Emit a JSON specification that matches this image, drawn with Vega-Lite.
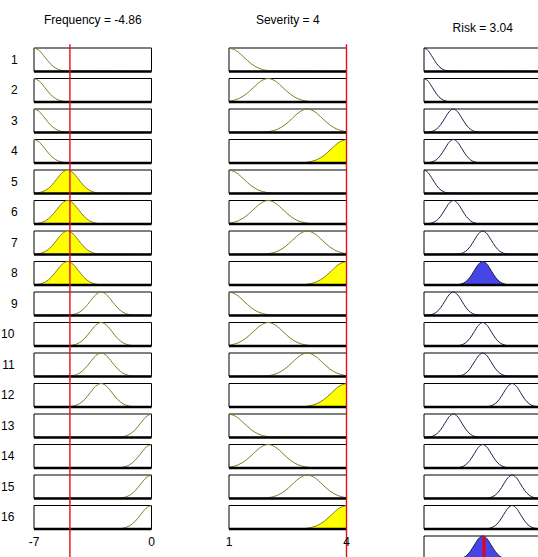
{
"$schema": "https://vega.github.io/schema/vega-lite/v6.json",
"padding": {"left": 0, "top": 14, "right": 0, "bottom": 0},
"background": "white",
"bounds": "flush",
"config": {"font": "Liberation Sans Narrow, Arial Narrow, Liberation Sans, sans-serif", "view": {"stroke": null}},
"data": {"values": [
{"k":"box","c":"Frequency","x":-7,"x2":0,"rule":[1,2,3,4,5,6,7,8,9,10,11,12,13,14,15,16],"fr":[]},
{"k":"box","c":"Severity","x":1,"x2":4,"rule":[1,2,3,4,5,6,7,8,9,10,11,12,13,14,15,16],"fr":[]},
{"k":"box","c":"Risk","x":1,"x2":5,"rule":[1,2,3,4,5,6,7,8,9,10,11,12,13,14,15,16,17],"fr":[]},
{"k":"red","c":"Frequency","x":-4.86,"rule":[1,2,3,4,5,6,7,8,9,10,11,12,13,14,15,16,17],"fr":[]},
{"k":"red","c":"Severity","x":4,"rule":[1,2,3,4,5,6,7,8,9,10,11,12,13,14,15,16,17],"fr":[]},
{"k":"redo","c":"Risk","x":3.04,"rule":[17],"fr":[]},
{"k":"lab","c":"Frequency","x":-7,"t":"-7","rule":[17],"fr":[]},
{"k":"lab","c":"Frequency","x":0,"t":"0","rule":[17],"fr":[]},
{"k":"lab","c":"Severity","x":1,"t":"1","rule":[17],"fr":[]},
{"k":"lab","c":"Severity","x":4,"t":"4","rule":[17],"fr":[]},

{"k":"mf","c":"Frequency","x":-7,"y":1,"rule":[1,2,3,4],"fr":[]},
{"k":"mf","c":"Frequency","x":-6.675,"y":0.8825,"rule":[1,2,3,4],"fr":[]},
{"k":"mf","c":"Frequency","x":-6.35,"y":0.6065,"rule":[1,2,3,4],"fr":[]},
{"k":"mf","c":"Frequency","x":-6.025,"y":0.3247,"rule":[1,2,3,4],"fr":[]},
{"k":"mf","c":"Frequency","x":-5.7,"y":0.1353,"rule":[1,2,3,4],"fr":[]},
{"k":"mf","c":"Frequency","x":-5.375,"y":0.0439,"rule":[1,2,3,4],"fr":[]},
{"k":"mf","c":"Frequency","x":-5.05,"y":0.0111,"rule":[1,2,3,4],"fr":[]},
{"k":"mf","c":"Frequency","x":0,"y":0,"rule":[1,2,3,4],"fr":[]},

{"k":"mf","c":"Frequency","x":-7,"y":0.0088,"rule":[5,6,7,8],"fr":[5,6,7,8]},
{"k":"mf","c":"Frequency","x":-6.95,"y":0.0111,"rule":[5,6,7,8],"fr":[5,6,7,8]},
{"k":"mf","c":"Frequency","x":-6.625,"y":0.0439,"rule":[5,6,7,8],"fr":[5,6,7,8]},
{"k":"mf","c":"Frequency","x":-6.3,"y":0.1353,"rule":[5,6,7,8],"fr":[5,6,7,8]},
{"k":"mf","c":"Frequency","x":-5.975,"y":0.3247,"rule":[5,6,7,8],"fr":[5,6,7,8]},
{"k":"mf","c":"Frequency","x":-5.65,"y":0.6065,"rule":[5,6,7,8],"fr":[5,6,7,8]},
{"k":"mf","c":"Frequency","x":-5.325,"y":0.8825,"rule":[5,6,7,8],"fr":[5,6,7,8]},
{"k":"mf","c":"Frequency","x":-5,"y":1,"rule":[5,6,7,8],"fr":[5,6,7,8]},
{"k":"mf","c":"Frequency","x":-4.675,"y":0.8825,"rule":[5,6,7,8],"fr":[5,6,7,8]},
{"k":"mf","c":"Frequency","x":-4.35,"y":0.6065,"rule":[5,6,7,8],"fr":[5,6,7,8]},
{"k":"mf","c":"Frequency","x":-4.025,"y":0.3247,"rule":[5,6,7,8],"fr":[5,6,7,8]},
{"k":"mf","c":"Frequency","x":-3.7,"y":0.1353,"rule":[5,6,7,8],"fr":[5,6,7,8]},
{"k":"mf","c":"Frequency","x":-3.375,"y":0.0439,"rule":[5,6,7,8],"fr":[5,6,7,8]},
{"k":"mf","c":"Frequency","x":-3.05,"y":0.0111,"rule":[5,6,7,8],"fr":[5,6,7,8]},
{"k":"mf","c":"Frequency","x":0,"y":0,"rule":[5,6,7,8],"fr":[5,6,7,8]},

{"k":"mf","c":"Frequency","x":-7,"y":0,"rule":[9,10,11,12],"fr":[]},
{"k":"mf","c":"Frequency","x":-4.95,"y":0.0111,"rule":[9,10,11,12],"fr":[]},
{"k":"mf","c":"Frequency","x":-4.625,"y":0.0439,"rule":[9,10,11,12],"fr":[]},
{"k":"mf","c":"Frequency","x":-4.3,"y":0.1353,"rule":[9,10,11,12],"fr":[]},
{"k":"mf","c":"Frequency","x":-3.975,"y":0.3247,"rule":[9,10,11,12],"fr":[]},
{"k":"mf","c":"Frequency","x":-3.65,"y":0.6065,"rule":[9,10,11,12],"fr":[]},
{"k":"mf","c":"Frequency","x":-3.325,"y":0.8825,"rule":[9,10,11,12],"fr":[]},
{"k":"mf","c":"Frequency","x":-3,"y":1,"rule":[9,10,11,12],"fr":[]},
{"k":"mf","c":"Frequency","x":-2.675,"y":0.8825,"rule":[9,10,11,12],"fr":[]},
{"k":"mf","c":"Frequency","x":-2.35,"y":0.6065,"rule":[9,10,11,12],"fr":[]},
{"k":"mf","c":"Frequency","x":-2.025,"y":0.3247,"rule":[9,10,11,12],"fr":[]},
{"k":"mf","c":"Frequency","x":-1.7,"y":0.1353,"rule":[9,10,11,12],"fr":[]},
{"k":"mf","c":"Frequency","x":-1.375,"y":0.0439,"rule":[9,10,11,12],"fr":[]},
{"k":"mf","c":"Frequency","x":-1.05,"y":0.0111,"rule":[9,10,11,12],"fr":[]},
{"k":"mf","c":"Frequency","x":0,"y":0,"rule":[9,10,11,12],"fr":[]},

{"k":"mf","c":"Frequency","x":-7,"y":0,"rule":[13,14,15,16],"fr":[]},
{"k":"mf","c":"Frequency","x":-1.95,"y":0.0111,"rule":[13,14,15,16],"fr":[]},
{"k":"mf","c":"Frequency","x":-1.625,"y":0.0439,"rule":[13,14,15,16],"fr":[]},
{"k":"mf","c":"Frequency","x":-1.3,"y":0.1353,"rule":[13,14,15,16],"fr":[]},
{"k":"mf","c":"Frequency","x":-0.975,"y":0.3247,"rule":[13,14,15,16],"fr":[]},
{"k":"mf","c":"Frequency","x":-0.65,"y":0.6065,"rule":[13,14,15,16],"fr":[]},
{"k":"mf","c":"Frequency","x":-0.325,"y":0.8825,"rule":[13,14,15,16],"fr":[]},
{"k":"mf","c":"Frequency","x":0,"y":1,"rule":[13,14,15,16],"fr":[]},

{"k":"mf","c":"Severity","x":1,"y":1,"rule":[1,5,9,13],"fr":[]},
{"k":"mf","c":"Severity","x":1.19,"y":0.8825,"rule":[1,5,9,13],"fr":[]},
{"k":"mf","c":"Severity","x":1.38,"y":0.6065,"rule":[1,5,9,13],"fr":[]},
{"k":"mf","c":"Severity","x":1.57,"y":0.3247,"rule":[1,5,9,13],"fr":[]},
{"k":"mf","c":"Severity","x":1.76,"y":0.1353,"rule":[1,5,9,13],"fr":[]},
{"k":"mf","c":"Severity","x":1.95,"y":0.0439,"rule":[1,5,9,13],"fr":[]},
{"k":"mf","c":"Severity","x":2.14,"y":0.0111,"rule":[1,5,9,13],"fr":[]},
{"k":"mf","c":"Severity","x":4,"y":0,"rule":[1,5,9,13],"fr":[]},

{"k":"mf","c":"Severity","x":1,"y":0.0314,"rule":[2,6,10,14],"fr":[]},
{"k":"mf","c":"Severity","x":1.05,"y":0.0439,"rule":[2,6,10,14],"fr":[]},
{"k":"mf","c":"Severity","x":1.24,"y":0.1353,"rule":[2,6,10,14],"fr":[]},
{"k":"mf","c":"Severity","x":1.43,"y":0.3247,"rule":[2,6,10,14],"fr":[]},
{"k":"mf","c":"Severity","x":1.62,"y":0.6065,"rule":[2,6,10,14],"fr":[]},
{"k":"mf","c":"Severity","x":1.81,"y":0.8825,"rule":[2,6,10,14],"fr":[]},
{"k":"mf","c":"Severity","x":2,"y":1,"rule":[2,6,10,14],"fr":[]},
{"k":"mf","c":"Severity","x":2.19,"y":0.8825,"rule":[2,6,10,14],"fr":[]},
{"k":"mf","c":"Severity","x":2.38,"y":0.6065,"rule":[2,6,10,14],"fr":[]},
{"k":"mf","c":"Severity","x":2.57,"y":0.3247,"rule":[2,6,10,14],"fr":[]},
{"k":"mf","c":"Severity","x":2.76,"y":0.1353,"rule":[2,6,10,14],"fr":[]},
{"k":"mf","c":"Severity","x":2.95,"y":0.0439,"rule":[2,6,10,14],"fr":[]},
{"k":"mf","c":"Severity","x":3.14,"y":0.0111,"rule":[2,6,10,14],"fr":[]},
{"k":"mf","c":"Severity","x":4,"y":0,"rule":[2,6,10,14],"fr":[]},

{"k":"mf","c":"Severity","x":1,"y":0,"rule":[3,7,11,15],"fr":[]},
{"k":"mf","c":"Severity","x":1.86,"y":0.0111,"rule":[3,7,11,15],"fr":[]},
{"k":"mf","c":"Severity","x":2.05,"y":0.0439,"rule":[3,7,11,15],"fr":[]},
{"k":"mf","c":"Severity","x":2.24,"y":0.1353,"rule":[3,7,11,15],"fr":[]},
{"k":"mf","c":"Severity","x":2.43,"y":0.3247,"rule":[3,7,11,15],"fr":[]},
{"k":"mf","c":"Severity","x":2.62,"y":0.6065,"rule":[3,7,11,15],"fr":[]},
{"k":"mf","c":"Severity","x":2.81,"y":0.8825,"rule":[3,7,11,15],"fr":[]},
{"k":"mf","c":"Severity","x":3,"y":1,"rule":[3,7,11,15],"fr":[]},
{"k":"mf","c":"Severity","x":3.19,"y":0.8825,"rule":[3,7,11,15],"fr":[]},
{"k":"mf","c":"Severity","x":3.38,"y":0.6065,"rule":[3,7,11,15],"fr":[]},
{"k":"mf","c":"Severity","x":3.57,"y":0.3247,"rule":[3,7,11,15],"fr":[]},
{"k":"mf","c":"Severity","x":3.76,"y":0.1353,"rule":[3,7,11,15],"fr":[]},
{"k":"mf","c":"Severity","x":3.95,"y":0.0439,"rule":[3,7,11,15],"fr":[]},
{"k":"mf","c":"Severity","x":4,"y":0.0314,"rule":[3,7,11,15],"fr":[]},

{"k":"mf","c":"Severity","x":1,"y":0,"rule":[4,8,12,16],"fr":[4,8,12,16]},
{"k":"mf","c":"Severity","x":2.86,"y":0.0111,"rule":[4,8,12,16],"fr":[4,8,12,16]},
{"k":"mf","c":"Severity","x":3.05,"y":0.0439,"rule":[4,8,12,16],"fr":[4,8,12,16]},
{"k":"mf","c":"Severity","x":3.24,"y":0.1353,"rule":[4,8,12,16],"fr":[4,8,12,16]},
{"k":"mf","c":"Severity","x":3.43,"y":0.3247,"rule":[4,8,12,16],"fr":[4,8,12,16]},
{"k":"mf","c":"Severity","x":3.62,"y":0.6065,"rule":[4,8,12,16],"fr":[4,8,12,16]},
{"k":"mf","c":"Severity","x":3.81,"y":0.8825,"rule":[4,8,12,16],"fr":[4,8,12,16]},
{"k":"mf","c":"Severity","x":4,"y":1,"rule":[4,8,12,16],"fr":[4,8,12,16]},

{"k":"mf","c":"Risk","x":1,"y":1,"rule":[1,2,5],"fr":[]},
{"k":"mf","c":"Risk","x":1.145,"y":0.8825,"rule":[1,2,5],"fr":[]},
{"k":"mf","c":"Risk","x":1.29,"y":0.6065,"rule":[1,2,5],"fr":[]},
{"k":"mf","c":"Risk","x":1.435,"y":0.3247,"rule":[1,2,5],"fr":[]},
{"k":"mf","c":"Risk","x":1.58,"y":0.1353,"rule":[1,2,5],"fr":[]},
{"k":"mf","c":"Risk","x":1.725,"y":0.0439,"rule":[1,2,5],"fr":[]},
{"k":"mf","c":"Risk","x":1.87,"y":0.0111,"rule":[1,2,5],"fr":[]},
{"k":"mf","c":"Risk","x":5,"y":0,"rule":[1,2,5],"fr":[]},

{"k":"mf","c":"Risk","x":1,"y":0,"rule":[3,4,6,9,13],"fr":[]},
{"k":"mf","c":"Risk","x":1.13,"y":0.0111,"rule":[3,4,6,9,13],"fr":[]},
{"k":"mf","c":"Risk","x":1.275,"y":0.0439,"rule":[3,4,6,9,13],"fr":[]},
{"k":"mf","c":"Risk","x":1.42,"y":0.1353,"rule":[3,4,6,9,13],"fr":[]},
{"k":"mf","c":"Risk","x":1.565,"y":0.3247,"rule":[3,4,6,9,13],"fr":[]},
{"k":"mf","c":"Risk","x":1.71,"y":0.6065,"rule":[3,4,6,9,13],"fr":[]},
{"k":"mf","c":"Risk","x":1.855,"y":0.8825,"rule":[3,4,6,9,13],"fr":[]},
{"k":"mf","c":"Risk","x":2,"y":1,"rule":[3,4,6,9,13],"fr":[]},
{"k":"mf","c":"Risk","x":2.145,"y":0.8825,"rule":[3,4,6,9,13],"fr":[]},
{"k":"mf","c":"Risk","x":2.29,"y":0.6065,"rule":[3,4,6,9,13],"fr":[]},
{"k":"mf","c":"Risk","x":2.435,"y":0.3247,"rule":[3,4,6,9,13],"fr":[]},
{"k":"mf","c":"Risk","x":2.58,"y":0.1353,"rule":[3,4,6,9,13],"fr":[]},
{"k":"mf","c":"Risk","x":2.725,"y":0.0439,"rule":[3,4,6,9,13],"fr":[]},
{"k":"mf","c":"Risk","x":2.87,"y":0.0111,"rule":[3,4,6,9,13],"fr":[]},
{"k":"mf","c":"Risk","x":5,"y":0,"rule":[3,4,6,9,13],"fr":[]},

{"k":"mf","c":"Risk","x":1,"y":0,"rule":[7,8,10,11,14,17],"fr":[8,17]},
{"k":"mf","c":"Risk","x":2.13,"y":0.0111,"rule":[7,8,10,11,14,17],"fr":[8,17]},
{"k":"mf","c":"Risk","x":2.275,"y":0.0439,"rule":[7,8,10,11,14,17],"fr":[8,17]},
{"k":"mf","c":"Risk","x":2.42,"y":0.1353,"rule":[7,8,10,11,14,17],"fr":[8,17]},
{"k":"mf","c":"Risk","x":2.565,"y":0.3247,"rule":[7,8,10,11,14,17],"fr":[8,17]},
{"k":"mf","c":"Risk","x":2.71,"y":0.6065,"rule":[7,8,10,11,14,17],"fr":[8,17]},
{"k":"mf","c":"Risk","x":2.855,"y":0.8825,"rule":[7,8,10,11,14,17],"fr":[8,17]},
{"k":"mf","c":"Risk","x":3,"y":1,"rule":[7,8,10,11,14,17],"fr":[8,17]},
{"k":"mf","c":"Risk","x":3.145,"y":0.8825,"rule":[7,8,10,11,14,17],"fr":[8,17]},
{"k":"mf","c":"Risk","x":3.29,"y":0.6065,"rule":[7,8,10,11,14,17],"fr":[8,17]},
{"k":"mf","c":"Risk","x":3.435,"y":0.3247,"rule":[7,8,10,11,14,17],"fr":[8,17]},
{"k":"mf","c":"Risk","x":3.58,"y":0.1353,"rule":[7,8,10,11,14,17],"fr":[8,17]},
{"k":"mf","c":"Risk","x":3.725,"y":0.0439,"rule":[7,8,10,11,14,17],"fr":[8,17]},
{"k":"mf","c":"Risk","x":3.87,"y":0.0111,"rule":[7,8,10,11,14,17],"fr":[8,17]},
{"k":"mf","c":"Risk","x":5,"y":0,"rule":[7,8,10,11,14,17],"fr":[8,17]},

{"k":"mf","c":"Risk","x":1,"y":0,"rule":[12,15,16],"fr":[]},
{"k":"mf","c":"Risk","x":3.13,"y":0.0111,"rule":[12,15,16],"fr":[]},
{"k":"mf","c":"Risk","x":3.275,"y":0.0439,"rule":[12,15,16],"fr":[]},
{"k":"mf","c":"Risk","x":3.42,"y":0.1353,"rule":[12,15,16],"fr":[]},
{"k":"mf","c":"Risk","x":3.565,"y":0.3247,"rule":[12,15,16],"fr":[]},
{"k":"mf","c":"Risk","x":3.71,"y":0.6065,"rule":[12,15,16],"fr":[]},
{"k":"mf","c":"Risk","x":3.855,"y":0.8825,"rule":[12,15,16],"fr":[]},
{"k":"mf","c":"Risk","x":4,"y":1,"rule":[12,15,16],"fr":[]},
{"k":"mf","c":"Risk","x":4.145,"y":0.8825,"rule":[12,15,16],"fr":[]},
{"k":"mf","c":"Risk","x":4.29,"y":0.6065,"rule":[12,15,16],"fr":[]},
{"k":"mf","c":"Risk","x":4.435,"y":0.3247,"rule":[12,15,16],"fr":[]},
{"k":"mf","c":"Risk","x":4.58,"y":0.1353,"rule":[12,15,16],"fr":[]},
{"k":"mf","c":"Risk","x":4.725,"y":0.0439,"rule":[12,15,16],"fr":[]},
{"k":"mf","c":"Risk","x":4.87,"y":0.0111,"rule":[12,15,16],"fr":[]},
{"k":"mf","c":"Risk","x":5,"y":0,"rule":[12,15,16],"fr":[]}
]},
"transform": [{"flatten": ["rule"]}],
"facet": {
  "row": {"field": "rule", "type": "ordinal", "header": {"title": null, "labelAngle": 0, "labelAlign": "center", "labelBaseline": "middle", "labelPadding": 13, "labelFontSize": 12, "labelColor": "black", "labelExpr": "datum.value == 17 ? '' : datum.value"}},
  "column": {"field": "c", "type": "nominal", "sort": ["Frequency", "Severity", "Risk"], "header": {"title": null, "labelFontSize": 12, "labelColor": "black", "labelLineHeight": 8, "labelPadding": 13, "labelExpr": "datum.value == 'Frequency' ? ['Frequency = -4.86', ''] : datum.value == 'Severity' ? ['Severity = 4', ''] : ['', 'Risk = 3.04']"}}
},
"spacing": {"row": 6.5, "column": 77},
"resolve": {"scale": {"x": "independent"}},
"spec": {
  "width": 117.5,
  "height": 23.4,
  "layer": [
    {"transform": [{"filter": "datum.k == 'box'"}],
     "mark": {"type": "rect", "fill": "white", "stroke": "black", "strokeWidth": 1},
     "encoding": {
       "x": {"field": "x", "type": "quantitative", "scale": {"zero": false, "nice": false}, "axis": null},
       "x2": {"field": "x2"},
       "y": {"datum": 0, "type": "quantitative", "scale": {"domain": [0, 1]}, "axis": null},
       "y2": {"datum": 1}
     }},
    {"transform": [{"filter": "datum.k == 'mf' && indexof(datum.fr, datum.rule) >= 0"}],
     "mark": {"type": "area", "interpolate": "monotone"},
     "encoding": {
       "x": {"field": "x", "type": "quantitative", "scale": {"zero": false, "nice": false}, "axis": null},
       "y": {"field": "y", "type": "quantitative", "scale": {"domain": [0, 1]}, "axis": null},
       "fill": {"field": "c", "type": "nominal", "scale": {"domain": ["Frequency", "Severity", "Risk"], "range": ["#ffff00", "#ffff00", "#4646e6"]}, "legend": null}
     }},
    {"transform": [{"filter": "datum.k == 'mf'"}],
     "mark": {"type": "line", "interpolate": "monotone", "strokeWidth": 1},
     "encoding": {
       "x": {"field": "x", "type": "quantitative", "scale": {"zero": false, "nice": false}, "axis": null},
       "y": {"field": "y", "type": "quantitative", "scale": {"domain": [0, 1]}, "axis": null},
       "stroke": {"field": "c", "type": "nominal", "scale": {"domain": ["Frequency", "Severity", "Risk"], "range": ["#7d7d2a", "#7d7d2a", "#1c1c50"]}, "legend": null}
     }},
    {"transform": [{"filter": "datum.k == 'box'"}],
     "mark": {"type": "rule", "color": "black", "strokeWidth": 2.5},
     "encoding": {
       "x": {"field": "x", "type": "quantitative", "scale": {"zero": false, "nice": false}, "axis": null},
       "x2": {"field": "x2"},
       "y": {"datum": 0, "type": "quantitative", "scale": {"domain": [0, 1]}, "axis": null}
     }},
    {"transform": [{"filter": "datum.k == 'red'"}],
     "mark": {"type": "rule", "color": "#e0101a", "strokeWidth": 1.4},
     "encoding": {
       "x": {"field": "x", "type": "quantitative", "scale": {"zero": false, "nice": false}, "axis": null},
       "y": {"datum": -0.16, "type": "quantitative", "scale": {"domain": [0, 1]}, "axis": null},
       "y2": {"datum": 1.16}
     }},
    {"transform": [{"filter": "datum.k == 'redo'"}],
     "mark": {"type": "rule", "color": "#e8001c", "strokeWidth": 3},
     "encoding": {
       "x": {"field": "x", "type": "quantitative", "scale": {"zero": false, "nice": false}, "axis": null},
       "y": {"datum": 0, "type": "quantitative", "scale": {"domain": [0, 1]}, "axis": null},
       "y2": {"datum": 1}
     }},
    {"transform": [{"filter": "datum.k == 'lab'"}],
     "mark": {"type": "text", "fontSize": 12, "color": "black", "baseline": "middle", "align": "center"},
     "encoding": {
       "x": {"field": "x", "type": "quantitative", "scale": {"zero": false, "nice": false}, "axis": null},
       "y": {"datum": 0.75, "type": "quantitative", "scale": {"domain": [0, 1]}, "axis": null},
       "text": {"field": "t"}
     }}
  ]
}
}
